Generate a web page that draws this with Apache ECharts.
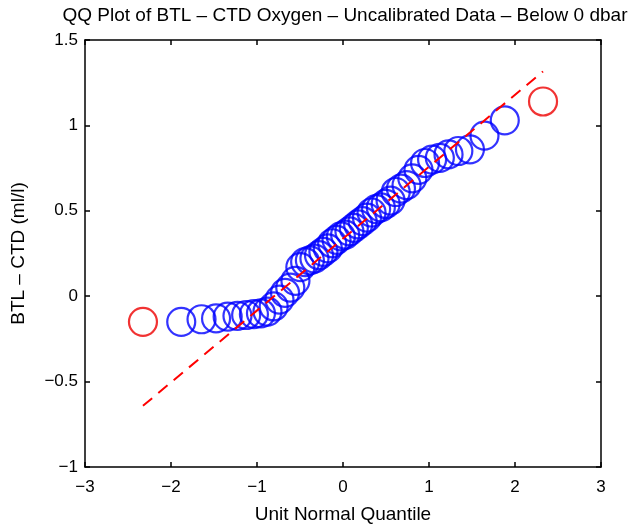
<!DOCTYPE html>
<html>
<head>
<meta charset="utf-8">
<script src="https://cdn.jsdelivr.net/npm/echarts@6/dist/echarts.min.js"></script>
<style>
html,body{margin:0;padding:0;background:#fff;}
#c{width:632px;height:529px;}
</style>
</head>
<body>
<div id="c"></div>
<script>
// Normal quantiles (x) and sorted values (y) of the blue points
var quantiles = [-1.881,-1.645,-1.476,-1.341,-1.227,-1.126,-1.036,-0.954,-0.878,-0.806,-0.739,-0.674,-0.613,-0.553,-0.496,-0.440,-0.385,-0.332,-0.279,-0.228,-0.176,-0.126,-0.075,-0.025,
                 0.025,0.075,0.126,0.176,0.228,0.279,0.332,0.385,0.440,0.496,0.553,0.613,0.674,0.739,0.806,0.878,0.954,1.036,1.126,1.227,1.341,1.476,1.645,1.881];
var values = [-0.15,-0.135,-0.13,-0.12,-0.115,-0.11,-0.105,-0.10,-0.09,-0.06,-0.02,0.02,0.05,0.09,0.17,0.20,0.21,0.22,0.24,0.26,0.28,0.31,0.33,0.35,
              0.36,0.38,0.40,0.42,0.44,0.46,0.49,0.51,0.52,0.54,0.56,0.61,0.63,0.65,0.69,0.74,0.78,0.80,0.81,0.83,0.85,0.86,0.94,1.03];
// Extreme points (red)
var extremeX = [-2.326, 2.326];
var extremeY = [-0.15, 1.14];
// Reference line endpoints (red dashed)
var lineX = [-2.326, 2.326];
var lineY = [-0.642, 1.316];
// Tick labels
var xTicks = [-3,-2,-1,0,1,2,3];
var yTicks = [-1,-0.5,0,0.5,1,1.5];

var FONT = 'Liberation Sans';
function fmt(v){ var s = String(v); return s.replace('-', '\u2212'); }

var blueData = quantiles.map(function(x,i){ return [x, values[i]]; });
var redData = extremeX.map(function(x,i){ return [x, extremeY[i]]; });
var lineData = lineX.map(function(x,i){ return [x, lineY[i]]; });

var chart = echarts.init(document.getElementById('c'));
var axisCommon = {
  axisLine:{show:true,onZero:false,lineStyle:{color:'#000',width:1.5}},
  axisTick:{show:true,inside:true,length:5,lineStyle:{color:'#000',width:1.5}},
  splitLine:{show:false}
};
chart.setOption({
  animation:false,
  backgroundColor:'#fff',
  title:{
    text:'QQ Plot of BTL \u2013 CTD Oxygen \u2013 Uncalibrated Data \u2013 Below 0 dbar',
    left:340, top:1, textAlign:'center',
    textStyle:{fontFamily:FONT,fontSize:19,fontWeight:'normal',color:'#000'}
  },
  grid:{left:85,right:31,top:40,bottom:60,containLabel:false},
  xAxis:[
    Object.assign({type:'value',position:'bottom',min:-3,max:3,interval:1,
      name:'Unit Normal Quantile',nameLocation:'middle',nameGap:38,
      nameTextStyle:{fontFamily:FONT,fontSize:19,color:'#000'},
      axisLabel:{fontFamily:FONT,fontSize:17,color:'#000',margin:12,formatter:fmt}},axisCommon),
    Object.assign({type:'value',position:'top',min:-3,max:3,interval:1,axisLabel:{show:false}},axisCommon)
  ],
  yAxis:[
    Object.assign({type:'value',position:'left',min:-1,max:1.5,interval:0.5,
      name:'BTL \u2013 CTD (ml/l)',nameLocation:'middle',nameGap:57,nameRotate:90,
      nameTextStyle:{fontFamily:FONT,fontSize:19,color:'#000'},
      axisLabel:{fontFamily:FONT,fontSize:17,color:'#000',margin:7,formatter:fmt}},axisCommon),
    Object.assign({type:'value',position:'right',min:-1,max:1.5,interval:0.5,axisLabel:{show:false}},axisCommon)
  ],
  series:[
    {type:'scatter',xAxisIndex:0,yAxisIndex:0,data:blueData,symbol:'circle',symbolSize:28,
     itemStyle:{color:'rgba(0,0,0,0)',borderColor:'#0000ff',borderWidth:2.2},z:2},
    {type:'line',xAxisIndex:0,yAxisIndex:0,data:lineData,symbol:'none',
     lineStyle:{color:'#ff0000',width:2,type:[12,8]},z:3},
    {type:'scatter',xAxisIndex:0,yAxisIndex:0,data:redData,symbol:'circle',symbolSize:28,
     itemStyle:{color:'rgba(0,0,0,0)',borderColor:'#ee0000',borderWidth:2.2},z:4}
  ]
});
</script>
</body>
</html>
